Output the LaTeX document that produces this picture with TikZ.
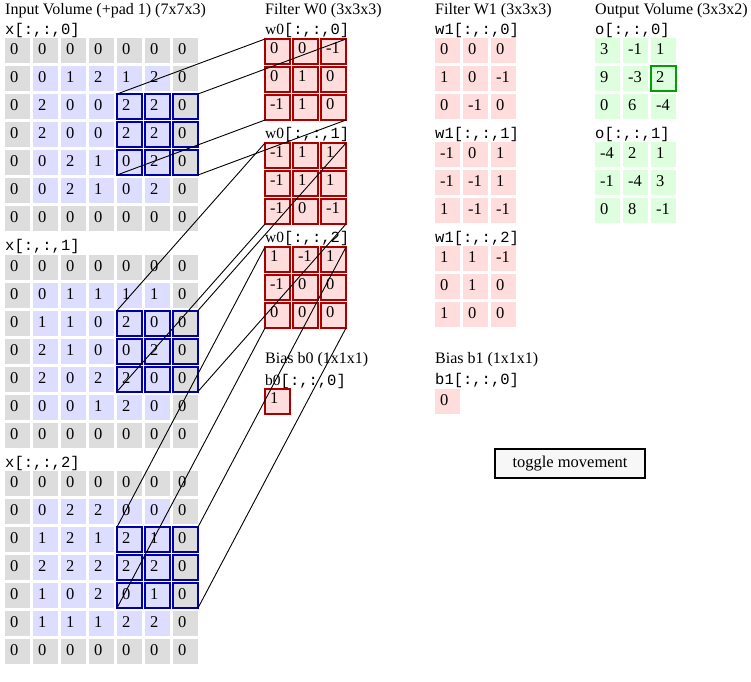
\documentclass[tikz,border=0pt]{standalone}
\usepackage{fontspec}
\setmainfont{Liberation Serif}
\setmonofont{Liberation Mono}
\definecolor{padgray}{RGB}{221,221,221}
\definecolor{inlav}{RGB}{221,221,255}
\definecolor{wpink}{RGB}{255,221,221}
\definecolor{wred}{RGB}{170,0,0}
\definecolor{ogreen}{RGB}{221,255,221}
\definecolor{hlblue}{RGB}{0,0,170}
\definecolor{hlgreen}{RGB}{0,160,0}
\definecolor{btngray}{RGB}{247,247,247}
\tikzset{
  title/.style={anchor=base west, inner sep=0pt, font=\fontsize{16}{19}\selectfont},
  lbl/.style={anchor=base west, inner sep=0pt, font=\fontsize{15.5}{18}\selectfont\ttfamily},
  cell/.style={anchor=north west, minimum width=25pt, minimum height=25pt, inner xsep=5pt,
    inner ysep=0pt, outer sep=0pt, text width=15pt, align=left, text height=10.5pt,
    text depth=2.5pt, font=\fontsize{16.5}{19}\selectfont},
  wcell/.style={cell, fill=wpink, draw=wred, line width=2pt, text depth=6.5pt},
  hlbox/.style={draw=hlblue, line width=2pt},
  hlout/.style={draw=hlgreen, line width=2pt},
  link/.style={black, line width=0.9pt},
  button/.style={draw=black, fill=btngray, line width=2pt, minimum width=150pt,
    minimum height=29pt, inner sep=0pt, font=\fontsize{16.5}{19}\selectfont}
}
\begin{document}
\begin{tikzpicture}[x=1pt,y=-1pt]
\useasboundingbox (0,0) rectangle (751,681);
\node[title] (tin) at (5,14) {Input Volume (+pad 1) (7x7x3)};
\node[title] (tw0) at (265,14) {Filter W0 (3x3x3)};
\node[title] (tw1) at (435,14) {Filter W1 (3x3x3)};
\node[title] (tout) at (595,14) {Output Volume (3x3x2)};
\node[title] (tb0) at (265,363) {Bias b0 (1x1x1)};
\node[title] (tb1) at (435,363) {Bias b1 (1x1x1)};
% input volume
\foreach \grid [count=\dep from 0] in {
  {{0,0,0,0,0,0,0},{0,0,1,2,1,2,0},{0,2,0,0,2,2,0},{0,2,0,0,2,2,0},{0,0,2,1,0,2,0},{0,0,2,1,0,2,0},{0,0,0,0,0,0,0}},
  {{0,0,0,0,0,0,0},{0,0,1,1,1,1,0},{0,1,1,0,2,0,0},{0,2,1,0,0,2,0},{0,2,0,2,2,0,0},{0,0,0,1,2,0,0},{0,0,0,0,0,0,0}},
  {{0,0,0,0,0,0,0},{0,0,2,2,0,0,0},{0,1,2,1,2,1,0},{0,2,2,2,2,2,0},{0,1,0,2,0,1,0},{0,1,1,1,2,2,0},{0,0,0,0,0,0,0}}}{
  \pgfmathsetmacro\ytop{38+216.5*\dep}
  \node[lbl] (xl\dep) at (5,\ytop-4) {x[:,:,\dep]};
  \foreach \row [count=\rr from 0] in \grid
    \foreach \v [count=\cc from 0] in \row {
      \pgfmathtruncatemacro\ispad{(\rr==0)||(\rr==6)||(\cc==0)||(\cc==6)}
      \ifnum\ispad=1 \def\cellbg{padgray}\else\def\cellbg{inlav}\fi
      \node[cell, fill=\cellbg] (x\dep-\rr-\cc) at (5+28*\cc,\ytop+28*\rr) {\v};
    }
}
\foreach \dep in {0,1,2}
  \foreach \rr in {2,3,4}
    \foreach \cc in {4,5,6}
      \draw[hlbox] (x\dep-\rr-\cc.north west) rectangle (x\dep-\rr-\cc.south east);
% filter w0
\foreach \grid [count=\dep from 0] in {
  {{0,0,-1},{0,1,0},{-1,1,0}},
  {{-1,1,1},{-1,1,1},{-1,0,-1}},
  {{1,-1,1},{-1,0,0},{0,0,0}}}{
  \node[lbl] (w0l\dep) at (265,34+104*\dep) {\rmfamily w0\ttfamily[:,:,\dep]};
  \foreach \row [count=\rr from 0] in \grid
    \foreach \v [count=\cc from 0] in \row
      \node[wcell] (w0s\dep-\rr-\cc) at (265+28*\cc,39+104*\dep+28*\rr) {\v};
}
% filter w1
\foreach \grid [count=\dep from 0] in {
  {{0,0,0},{1,0,-1},{0,-1,0}},
  {{-1,0,1},{-1,-1,1},{1,-1,-1}},
  {{1,1,-1},{0,1,0},{1,0,0}}}{
  \node[lbl] (w1l\dep) at (435,34+104*\dep) {w1[:,:,\dep]};
  \foreach \row [count=\rr from 0] in \grid
    \foreach \v [count=\cc from 0] in \row
      \node[cell, fill=wpink] (w1s\dep-\rr-\cc) at (435+28*\cc,38+104*\dep+28*\rr) {\v};
}
% output volume
\foreach \grid [count=\dep from 0] in {
  {{3,-1,1},{9,-3,2},{0,6,-4}},
  {{-4,2,1},{-1,-4,3},{0,8,-1}}}{
  \node[lbl] (ol\dep) at (595,34+104*\dep) {o[:,:,\dep]};
  \foreach \row [count=\rr from 0] in \grid
    \foreach \v [count=\cc from 0] in \row
      \node[cell, fill=ogreen] (os\dep-\rr-\cc) at (595+28*\cc,38+104*\dep+28*\rr) {\v};
}
\draw[hlout] (os0-1-2.north west) rectangle (os0-1-2.south east);
% biases
\node[lbl] (b0l) at (265,385) {\rmfamily b0\ttfamily[:,:,0]};
\node[wcell] (b0) at (265,389) {1};
\node[lbl] (b1l) at (435,384) {b1[:,:,0]};
\node[cell, fill=wpink] (b1) at (435,389) {0};
\node[button] (toggle) at (570,463.5) {toggle movement};
% receptive field to filter
\foreach \dep in {0,1,2}{
  \draw[link] (x\dep-2-4.north west) -- (w0s\dep-0-0.north west);
  \draw[link] (x\dep-2-6.north east) -- (w0s\dep-0-2.north east);
  \draw[link] (x\dep-4-4.south west) -- (w0s\dep-2-0.south west);
  \draw[link] (x\dep-4-6.south east) -- (w0s\dep-2-2.south east);
}
\end{tikzpicture}
\end{document}
